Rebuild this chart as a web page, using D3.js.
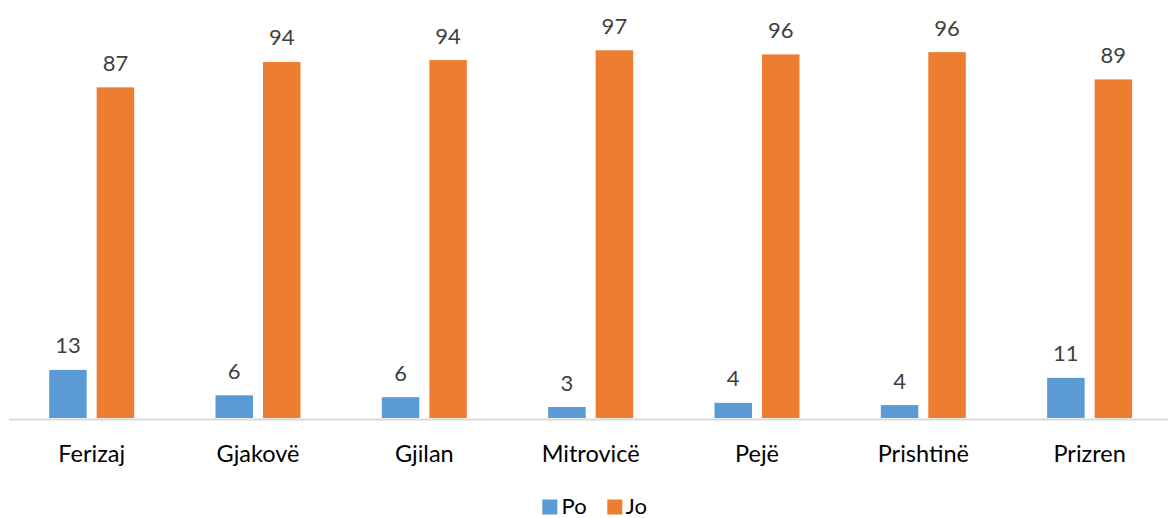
<!DOCTYPE html>
<html>
<head>
<meta charset="utf-8">
<script src="https://cdn.jsdelivr.net/npm/d3@7"></script>
<style>
  html, body { margin: 0; padding: 0; background: #fff; }
  svg { display: block; }
  text { font-family: Lato, "Open Sans", sans-serif; }
</style>
</head>
<body>
<svg id="chart" width="1168" height="518"></svg>
<script>
const categories = ["Ferizaj", "Gjakovë", "Gjilan", "Mitrovicë", "Pejë", "Prishtinë", "Prizren"];
const seriesNames = ["Po", "Jo"];
const poValues = [12.7, 6.0, 5.5, 2.9, 4.0, 3.4, 10.6];
const joValues = [87.3, 94.0, 94.5, 97.1, 96.0, 96.6, 89.4];
const labelPo = ["13", "6", "6", "3", "4", "4", "11"];
const labelJo = ["87", "94", "94", "97", "96", "96", "89"];
const colors = ["#5B9BD5", "#ED7D31"];

const svg = d3.select("#chart");
const baseY = 418;

const x0 = d3.scaleBand().domain(categories).range([8.5, 1172.8])
  .paddingInner(0.489).paddingOuter(0.2445);
const x1 = d3.scaleBand().domain(seriesNames).range([0, x0.bandwidth()])
  .paddingInner(0.2105).paddingOuter(0);
const y = d3.scaleLinear().domain([0, 110]).range([baseY, 1.4]);

const rows = categories.map((c, i) => ({
  cat: c,
  vals: [
    { s: "Po", v: poValues[i], lbl: labelPo[i] },
    { s: "Jo", v: joValues[i], lbl: labelJo[i] }
  ]
}));

const groups = svg.append("g").selectAll("g").data(rows).join("g")
  .attr("transform", d => `translate(${x0(d.cat)},0)`);

groups.selectAll("rect").data(d => d.vals).join("rect")
  .attr("x", d => x1(d.s))
  .attr("width", x1.bandwidth())
  .attr("y", d => y(d.v))
  .attr("height", d => y(0) - y(d.v))
  .attr("fill", d => colors[seriesNames.indexOf(d.s)]);

groups.selectAll("text.val").data(d => d.vals).join("text")
  .attr("class", "val")
  .attr("x", d => x1(d.s) + x1.bandwidth() / 2)
  .attr("y", d => y(d.v) - 16.5)
  .attr("text-anchor", "middle")
  .attr("font-size", 22)
  .attr("fill", "#404040")
  .text(d => d.lbl);

// category axis
const axis = svg.append("g")
  .attr("transform", `translate(0,${baseY + 1})`)
  .call(d3.axisBottom(x0).tickSize(0).tickSizeOuter(0));
axis.select(".domain").attr("stroke", "#d9d9d9").attr("stroke-width", 2);
axis.selectAll(".tick text")
  .attr("y", 43).attr("dy", null)
  .attr("font-size", 23.5)
  .attr("font-family", "Lato, 'Open Sans', sans-serif")
  .attr("fill", "#000");

// legend
const legendItems = [
  { name: "Po", color: colors[0], sx: 542.3, tx: 561.5 },
  { name: "Jo", color: colors[1], sx: 607.3, tx: 625.5 }
];
const lg = svg.append("g");
lg.selectAll("rect").data(legendItems).join("rect")
  .attr("x", d => d.sx).attr("y", 499.5).attr("width", 15).attr("height", 15)
  .attr("fill", d => d.color);
lg.selectAll("text").data(legendItems).join("text")
  .attr("x", d => d.tx).attr("y", 513.5)
  .attr("font-size", 22).attr("fill", "#000")
  .text(d => d.name);
</script>
</body>
</html>
